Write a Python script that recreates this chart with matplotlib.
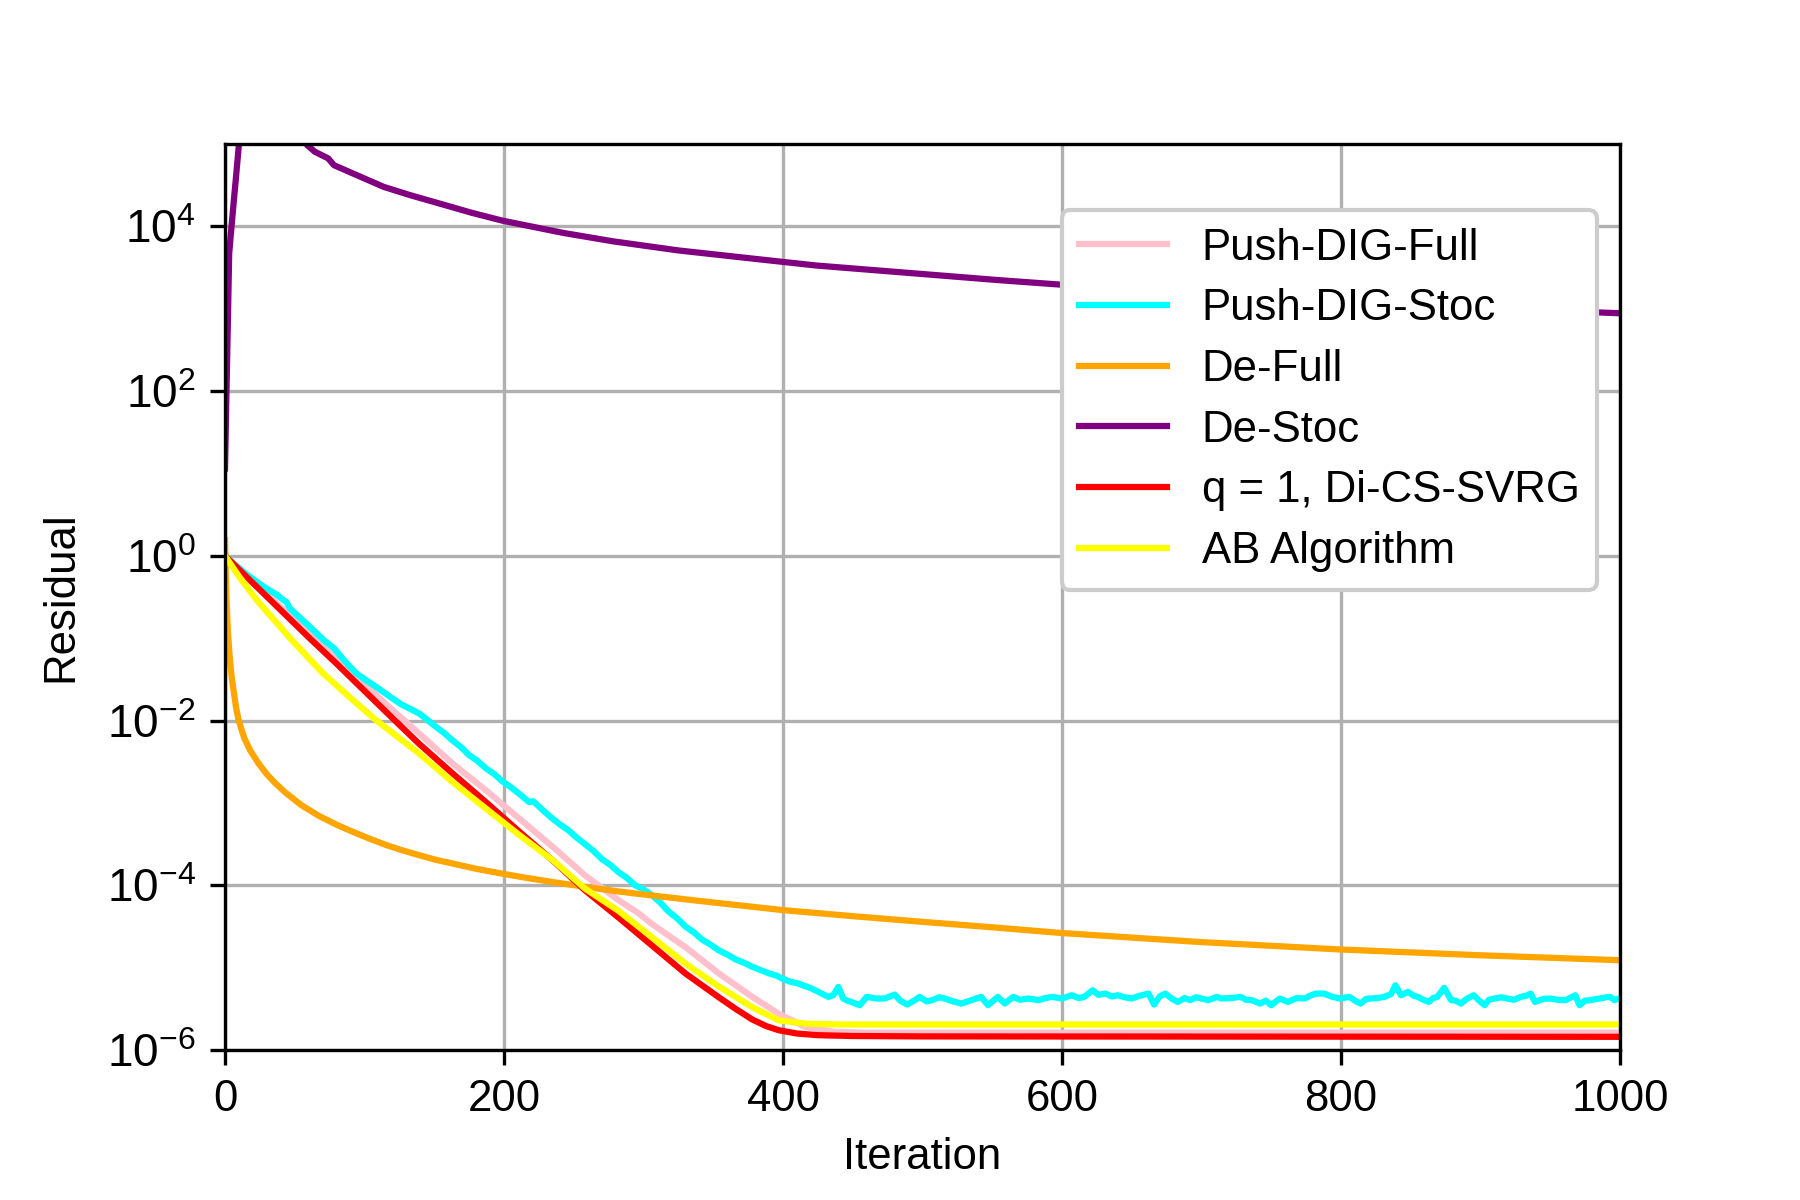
import matplotlib
matplotlib.use("Agg")
import matplotlib.pyplot as plt
import numpy as np
from matplotlib.ticker import FixedLocator, NullLocator, LogFormatterSciNotation

plt.rcParams['font.family'] = ['Liberation Sans', 'DejaVu Sans']
plt.rcParams['mathtext.fontset'] = 'custom'
plt.rcParams['mathtext.rm'] = 'Liberation Sans'
plt.rcParams['mathtext.it'] = 'Liberation Sans:italic'
plt.rcParams['mathtext.bf'] = 'Liberation Sans:bold'
plt.rcParams['font.size'] = 10.5

# residuals, stored as log10 exponents
pink_it = [0, 22.8, 46.6, 70.5, 94.3, 118, 142, 163, 187, 211, 235, 258, 282, 296.5, 306, 330,
           354, 378, 397, 416, 437, 460, 1000]
pink_log = [0.0, -0.35, -0.73, -1.10, -1.47, -1.84, -2.20, -2.52, -2.846, -3.19, -3.534, -3.878,
            -4.18, -4.34, -4.47, -4.75, -5.07, -5.355, -5.56, -5.72, -5.78, -5.79, -5.79]

cyan_it = [0, 8, 15, 22.8, 30, 37, 41.9, 44, 46.6, 55, 62, 70.5, 78, 86, 94.3, 102, 110, 118.2,
           126, 134, 139.2, 145, 150, 157, 163, 169, 175, 181, 187, 193, 199, 205, 211, 218, 221,
           228, 234, 240, 246, 252, 258, 264, 270, 276, 282, 288, 294, 300, 306, 312, 318, 324,
           330, 336, 342, 348, 354, 360, 366, 372, 378, 384, 390, 396, 399, 405, 411, 420.6, 426,
           432.5, 436, 439.7, 443.2,
           446, 449, 455, 460, 467, 473, 480, 484, 489, 494, 498, 503, 507, 512, 516, 522, 528,
           535, 542, 547, 554, 559, 565, 570, 576, 583, 588, 593, 600, 607, 612, 616, 622, 626,
           631, 636, 640, 645, 650, 656, 662, 666, 670, 674, 679, 683, 688, 692, 696, 700, 705,
           711, 714, 721, 728, 732, 736, 742, 746, 750, 756, 762, 768, 774, 778, 782, 788, 793,
           799, 806, 810, 814, 818, 821, 826, 831, 836, 839, 843, 848, 852, 855, 859, 863, 866,
           869, 874, 879, 882, 886, 890, 895, 899, 903, 906, 910, 915, 919, 924, 929, 933, 936,
           939, 945, 950, 955, 961, 965, 968, 971, 975, 979, 983, 986, 990, 993, 996, 1000]
cyan_log = [0.0, -0.12, -0.22, -0.315, -0.40, -0.47, -0.538, -0.56, -0.64, -0.77, -0.88, -1.02,
            -1.12, -1.28, -1.43, -1.52, -1.61, -1.71, -1.80, -1.87, -1.914, -1.99, -2.06, -2.15,
            -2.24, -2.32, -2.42, -2.49, -2.58, -2.65, -2.74, -2.81, -2.89, -2.99, -2.98, -3.09,
            -3.18, -3.26, -3.33, -3.42, -3.50, -3.58, -3.68, -3.75, -3.84, -3.91, -4.00, -4.05,
            -4.12, -4.21, -4.32, -4.40, -4.50, -4.57, -4.66, -4.72, -4.79, -4.84, -4.90, -4.94,
            -4.99, -5.03, -5.07, -5.10, -5.13, -5.17, -5.193, -5.254, -5.30, -5.355, -5.335,
            -5.234, -5.375,
            -5.40, -5.416, -5.456, -5.355, -5.375, -5.375, -5.327, -5.40, -5.448, -5.40, -5.355,
            -5.41, -5.395, -5.36, -5.375, -5.41, -5.436, -5.395, -5.355, -5.456, -5.355, -5.436,
            -5.355, -5.39, -5.375, -5.395, -5.37, -5.355, -5.375, -5.335, -5.37, -5.355, -5.274,
            -5.33, -5.315, -5.35, -5.335, -5.36, -5.375, -5.34, -5.315, -5.448, -5.35, -5.315,
            -5.38, -5.416, -5.37, -5.395, -5.36, -5.375, -5.395, -5.355, -5.375, -5.37, -5.355,
            -5.39, -5.395, -5.436, -5.40, -5.456, -5.375, -5.416, -5.37, -5.375, -5.34, -5.315,
            -5.315, -5.35, -5.375, -5.355, -5.40, -5.436, -5.38, -5.375, -5.37, -5.355, -5.32,
            -5.214, -5.335, -5.294, -5.34, -5.355, -5.39, -5.416, -5.37, -5.355, -5.245, -5.395,
            -5.40, -5.436, -5.38, -5.335, -5.40, -5.456, -5.39, -5.375, -5.36, -5.375, -5.39,
            -5.355, -5.34, -5.315, -5.416, -5.38, -5.375, -5.39, -5.395, -5.36, -5.335, -5.456,
            -5.40, -5.395, -5.38, -5.375, -5.36, -5.355, -5.395, -5.37]

orange_it = [0, 1, 2, 3, 4, 5, 6.1, 8, 9.7, 12, 14, 18, 24, 29.9, 36, 43, 55, 67.6, 80, 91.5,
             103, 115.3, 127, 139.2, 151, 163, 180, 199.2, 216, 234.6, 258.4, 282.3, 296.5, 340,
             399, 450, 497, 550, 600, 700, 800, 900, 1000]
orange_log = [0.19, -0.5, -0.9, -1.15, -1.35, -1.5, -1.63, -1.85, -1.99, -2.12, -2.22, -2.36,
              -2.52, -2.65, -2.76, -2.87, -3.03, -3.16, -3.265, -3.35, -3.43, -3.51, -3.575,
              -3.635, -3.69, -3.735, -3.80, -3.86, -3.91, -3.96, -4.02, -4.075, -4.105, -4.19,
              -4.30, -4.375, -4.44, -4.51, -4.58, -4.69, -4.78, -4.85, -4.91]

purple_it = [0, 1, 2, 3, 4, 6, 8, 10, 14, 20, 28, 38, 50, 58.9, 64.4, 74, 78.1, 89, 113.7, 132.9,
             160.4, 176.8, 198.7, 242.6, 278.3, 324.9, 379.7, 423.6, 554, 597, 700, 800, 900, 1000]
purple_log = [1.06, 1.95, 2.8, 3.67, 3.87, 4.25, 4.62, 5.0, 5.5, 5.9, 6.0, 5.7, 5.2, 4.987,
              4.906, 4.825, 4.743, 4.662, 4.48, 4.378, 4.245, 4.165, 4.07, 3.92, 3.818, 3.708,
              3.606, 3.525, 3.348, 3.295, 3.17, 3.08, 3.01, 2.945]

red_it = [0, 20, 40, 60, 80, 100, 120, 139, 163, 187, 211, 235, 258, 282, 306, 330, 354, 366,
          378, 388, 397, 410, 425, 450, 500, 1000]
red_log = [0.0, -0.33, -0.66, -0.99, -1.31, -1.64, -1.97, -2.28, -2.64, -2.99, -3.35, -3.70,
           -4.06, -4.39, -4.73, -5.07, -5.36, -5.50, -5.63, -5.71, -5.76, -5.80, -5.82, -5.83,
           -5.835, -5.84]

yellow_it = [0, 10, 22.8, 46.6, 70.5, 94.3, 108.6, 139.2, 163, 187, 211, 235, 258, 282, 306,
             330, 354, 378, 397, 416, 440, 1000]
yellow_log = [0.0, -0.25, -0.538, -1.00, -1.43, -1.79, -2.0, -2.40, -2.744, -3.068, -3.39,
              -3.696, -4.04, -4.31, -4.63, -4.95, -5.23, -5.48, -5.64, -5.68, -5.69, -5.69]

series = [
    (pink_it, pink_log, 'pink', 'Push-DIG-Full'),
    (cyan_it, cyan_log, 'cyan', 'Push-DIG-Stoc'),
    (orange_it, orange_log, 'orange', 'De-Full'),
    (purple_it, purple_log, 'purple', 'De-Stoc'),
    (red_it, red_log, 'red', 'q = 1, Di-CS-SVRG'),
    (yellow_it, yellow_log, 'yellow', 'AB Algorithm'),
]

fig = plt.figure(figsize=(6, 4), dpi=300)
ax = fig.add_subplot(111)
fig.subplots_adjust(left=0.125, right=0.9, top=0.88, bottom=0.125)

for it, lg, col, lab in series:
    ax.plot(it, np.power(10.0, lg), color=col, lw=1.5, label=lab)

ax.set_yscale('log')
ax.set_xlim(0, 1000)
ax.set_ylim(1e-6, 1e5)
ax.xaxis.set_major_locator(FixedLocator([0, 200, 400, 600, 800, 1000]))
ax.yaxis.set_major_locator(FixedLocator([1e-6, 1e-4, 1e-2, 1e0, 1e2, 1e4]))
ax.yaxis.set_major_formatter(LogFormatterSciNotation())
ax.yaxis.set_minor_locator(NullLocator())
ax.tick_params(axis='y', labelsize=11)
ax.grid(True)
ax.set_xlabel('Iteration')
ax.set_ylabel('Residual', labelpad=6)
ax.legend(loc='upper right', bbox_to_anchor=(0.9835, 0.927), borderaxespad=0,
          labelspacing=0.45, framealpha=1.0)

fig.savefig('out.png', dpi=300)
